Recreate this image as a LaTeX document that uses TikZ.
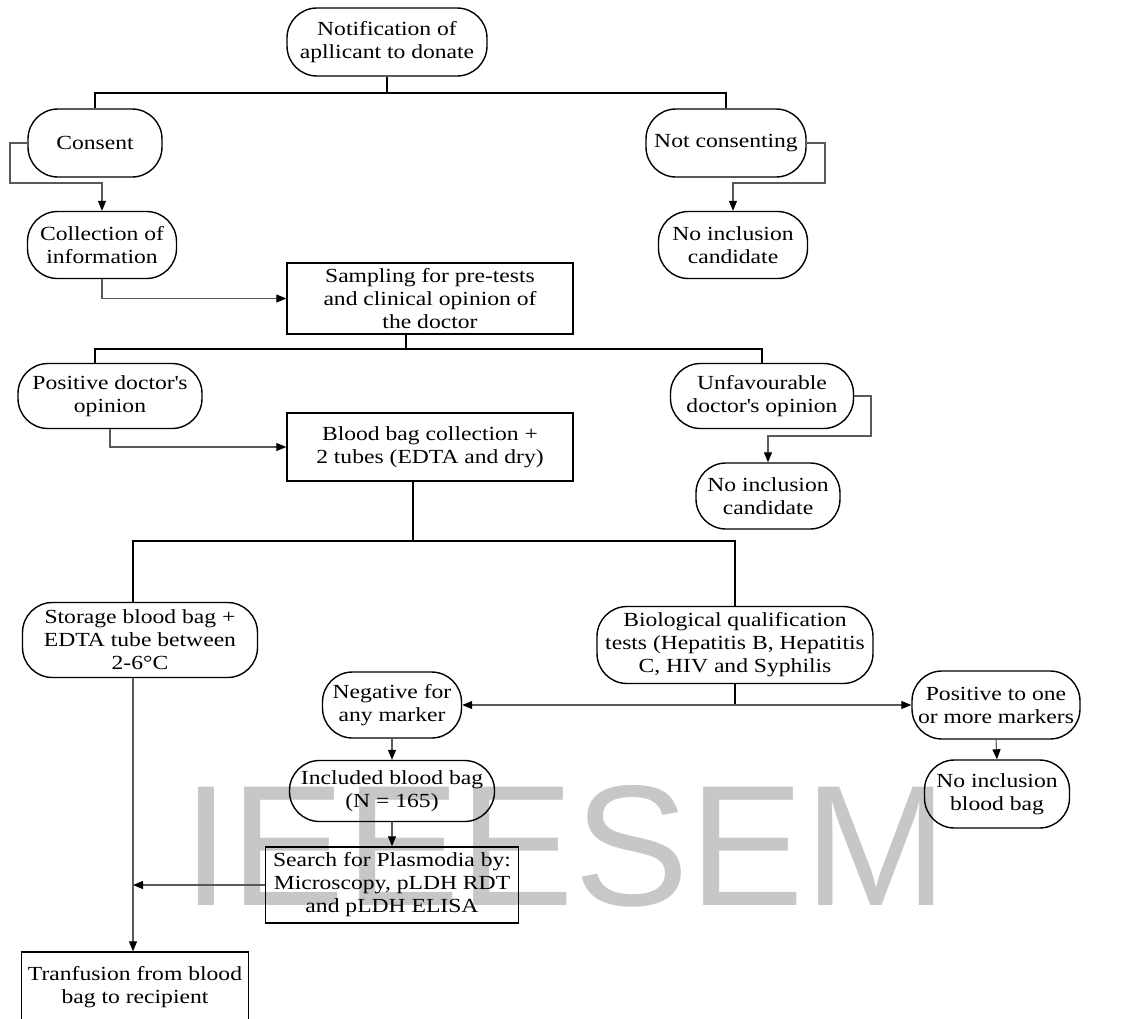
\documentclass[tikz,border=0pt]{standalone}
\usepackage{fontspec}
\setmainfont[FakeStretch=1.18]{Liberation Serif}
\newfontfamily\wmfont{Liberation Sans}
\usetikzlibrary{arrows.meta}

\begin{document}
\begin{tikzpicture}[x=0.5pt,y=-0.5pt,
  font=\fontsize{10}{11.5}\selectfont,
  stadium/.style={draw,line width=0.7pt,rounded corners=15pt,align=center,inner sep=0pt},
  box/.style={draw,line width=0.7pt,align=center,inner sep=0pt},
  bus/.style={line width=0.8pt},
  link/.style={line width=0.55pt,draw=black!65},
  >={Triangle[length=5pt,width=4pt,color=black]}]

\useasboundingbox (0,0) rectangle (1137,1019);

% watermark
\node[text=black!22,font=\wmfont\fontsize{86}{86}\selectfont,anchor=base] (wm) at (565,905) {IEEESEM};

% consent
\node[stadium,minimum width=100pt,minimum height=34pt] (notif) at (387,42) {Notification of\\apllicant to donate};
\node[stadium,minimum width=67pt,minimum height=34pt] (consent) at (95,143) {Consent};
\node[stadium,minimum width=80pt,minimum height=34pt] (notcons) at (726,143) {Not consenting};
\node[stadium,minimum width=74.5pt,minimum height=33.5pt] (collect) at (102,245) {Collection of\\information};
\node[stadium,minimum width=74.5pt,minimum height=33.5pt] (noincA) at (733,245) {No inclusion\\candidate};

% doctor
\node[box,minimum width=143pt,minimum height=35.5pt] (sampling) at (430,298.5) {Sampling for pre-tests\\and clinical opinion of\\the doctor};
\node[stadium,minimum width=92pt,minimum height=32.5pt] (posdoc) at (110,396) {Positive doctor\textquotesingle s\\opinion};
\node[stadium,minimum width=91.5pt,minimum height=32.5pt] (unfav) at (762,396) {Unfavourable\\doctor\textquotesingle s opinion};
\node[box,minimum width=143pt,minimum height=34pt] (bloodbag) at (430,447) {Blood bag collection +\\2 tubes (EDTA and dry)};
\node[stadium,minimum width=72pt,minimum height=33pt] (noincB) at (768,496) {No inclusion\\candidate};

% tests
\node[stadium,minimum width=117.5pt,minimum height=37.5pt] (storage) at (140,640) {Storage blood bag +\\EDTA tube between\\2-6\textdegree C};
\node[stadium,minimum width=138pt,minimum height=38.5pt] (bio) at (735,645) {Biological qualification\\tests (Hepatitis B, Hepatitis\\C, HIV and Syphilis};
\node[stadium,minimum width=69.5pt,minimum height=33pt] (negative) at (392,705) {Negative for\\any marker};
\node[stadium,minimum width=84pt,minimum height=34pt] (positive) at (996,705) {Positive to one\\or more markers};
\node[stadium,minimum width=72.5pt,minimum height=34pt] (noincbag) at (997,794) {No inclusion\\blood bag};
\node[stadium,minimum width=102.5pt,minimum height=30.5pt] (included) at (392,791) {Included blood bag\\(N = 165)};
\node[box,minimum width=126.5pt,minimum height=38pt] (search) at (392,885) {Search for Plasmodia by:\\Microscopy, pLDH RDT\\and pLDH ELISA};
\node[box,minimum width=113.5pt,minimum height=35pt] (transf) at (135,987) {Tranfusion from blood\\bag to recipient};

% branch lines
\coordinate (busA) at (387,93);
\coordinate (busB) at (406,349);
\coordinate (busC) at (413,541);
\coordinate (trunk) at ([xshift=-3.5pt]storage.south);

\draw[bus] (notif.south) -- (busA);
\draw[bus] (consent.north) |- (busA) -| (notcons.north);
\draw[bus] (busB |- sampling.south) -- (busB);
\draw[bus] ([xshift=-7.5pt]posdoc.north) |- (busB) -| (unfav.north);
\draw[bus] (busC |- bloodbag.south) -- (busC);
\draw[bus] (trunk |- storage.north) |- (busC) -| (bio.north);
\draw[bus] (bio.south) -- (bio.south |- negative.east);

% side loops
\coordinate (loopA) at (10,183);
\coordinate (loopB) at (825,183);
\coordinate (loopC) at (871,436);
\draw[link,->] (consent.west) -| (loopA) -| (collect.north);
\draw[link,->] (notcons.east) -| (loopB) -| (noincA.north);
\draw[link,->] (unfav.east) -| (loopC) -| (noincB.north);

% arrows
\draw[link,->] (collect.south) |- (sampling.west);
\draw[link,->] (posdoc.south) |- (bloodbag.west);
\draw[link,<->] (negative.east) -- (positive.west);
\draw[link,->] (positive.south) -- (noincbag.north);
\draw[link,->] (negative.south) -- (included.north);
\draw[link,->] (included.south) -- (search.north);
\draw[link,->] (search.west) -- (search.west -| trunk);
\draw[link,->] (trunk) -- (trunk |- transf.north);
\end{tikzpicture}
\end{document}
